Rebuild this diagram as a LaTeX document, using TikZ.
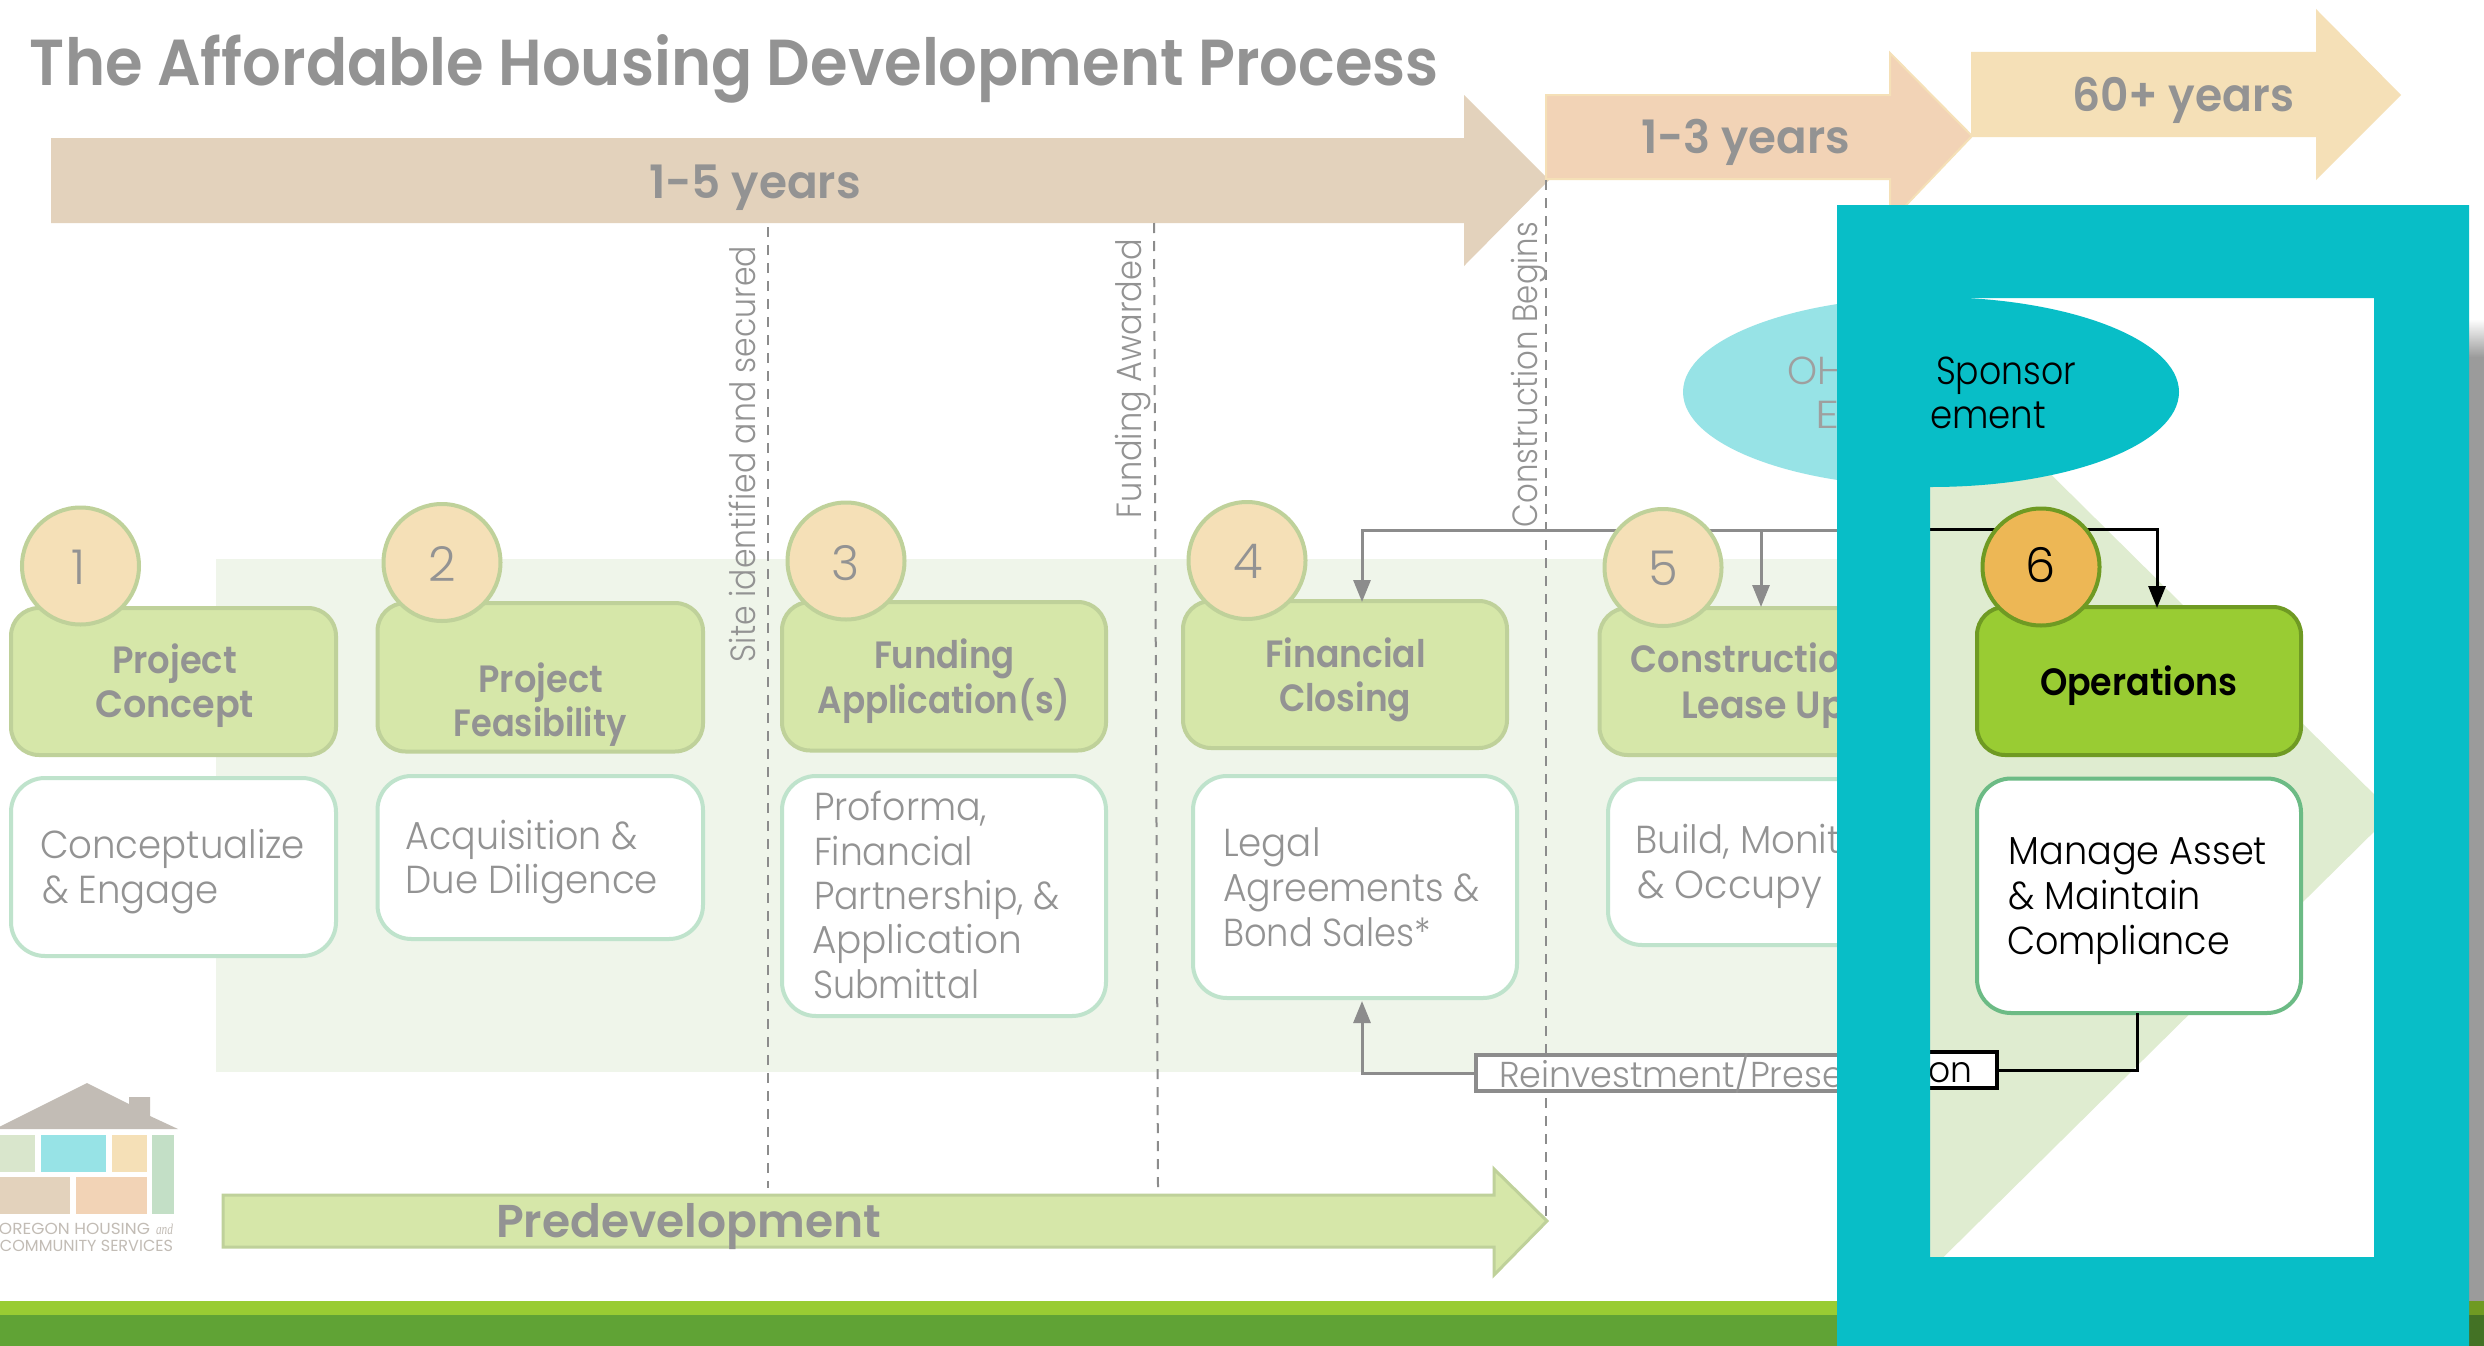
\documentclass[tikz,border=0pt]{standalone}
\usepackage{fontspec}
\usepackage{graphicx}
\usetikzlibrary{arrows.meta,shapes.geometric}
\setmainfont{Poppins}
\newfontfamily\ltf{Poppins Light}
\newfontfamily\hvf{Poppins SemiBold}
\newfontfamily\serf{Liberation Serif}
\definecolor{txtgray}{HTML}{939393}
\definecolor{boxgreen}{HTML}{D6E7A9}
\definecolor{boxedge}{HTML}{BFD19A}
\definecolor{whiteedge}{HTML}{BFE3CC}
\definecolor{peach}{HTML}{F5E0B7}
\definecolor{bgpale}{HTML}{EFF5EA}
\definecolor{chev}{HTML}{DFECD0}
\definecolor{tealc}{HTML}{08BEC7}
\definecolor{lteal}{HTML}{97E3E6}
\definecolor{connGray}{HTML}{8C8C8C}
\definecolor{opsfill}{HTML}{99CC33}
\definecolor{opsedge}{HTML}{6F9A23}
\definecolor{opsc}{HTML}{EDB755}
\definecolor{opsw}{HTML}{6CBB85}
\definecolor{logot}{HTML}{C2BCB5}
\definecolor{banddark}{HTML}{60A335}
\definecolor{arrbeige}{HTML}{E3D2BC}
\definecolor{arrorange}{HTML}{F2D3B6}
\definecolor{logogreen}{HTML}{D9E6CC}
\definecolor{logovert}{HTML}{C3DFC6}
\definecolor{shadowg}{HTML}{9B9B9B}
\newcommand\fitw[2]{\resizebox{#1 pt}{\height}{#2}}
\newcommand\rbox[6]{\pgfmathsetmacro\cxx{(#3+#5)/2}\pgfmathsetmacro\cyy{(#4+#6)/2}\pgfmathsetmacro\www{#5-#3-2}\pgfmathsetmacro\hhh{#6-#4-2}\node[#2,minimum width=\www pt,minimum height=\hhh pt] (#1) at (\cxx,\cyy) {};}
\newcommand\tline[6]{\node[#2,anchor=base west] (#1) at (#3,#4) {\fitw{#5}{#6}};}
\tikzset{
 every node/.style={inner sep=0pt,outer sep=0pt},
 gbox/.style={rectangle,rounded corners=28pt,draw=boxedge,fill=boxgreen,line width=4pt},
 wbox/.style={rectangle,rounded corners=34pt,draw=whiteedge,fill=white,line width=4pt},
 numc/.style={circle,minimum size=117pt,draw=boxedge,fill=peach,line width=4pt},
 opsbox/.style={rectangle,rounded corners=28pt,draw=opsedge,fill=opsfill,line width=4pt},
 opswhite/.style={rectangle,rounded corners=34pt,draw=opsw,fill=white,line width=4pt},
 opsnum/.style={circle,minimum size=117pt,draw=opsedge,fill=opsc,line width=4pt},
 body/.style={text=txtgray,font=\ltf\fontsize{39}{39}\selectfont},
 head/.style={text=txtgray,font=\hvf\fontsize{38}{38}\selectfont},
 bodyk/.style={text=black,font=\ltf\fontsize{39}{39}\selectfont},
 headk/.style={text=black,font=\hvf\fontsize{38}{38}\selectfont},
 big/.style={text=txtgray,font=\hvf\fontsize{46}{46}\selectfont},
 numt/.style={text=txtgray,font=\ltf\fontsize{48}{48}\selectfont,anchor=base},
 rot/.style={text=txtgray,font=\ltf\fontsize{35}{35}\selectfont,rotate=90,anchor=base west},
 dashline/.style={draw=connGray,line width=2pt,dash pattern=on 10pt off 8pt},
 gconn/.style={draw=connGray,line width=3pt},
 kconn/.style={draw=black,line width=3pt},
 tip/.style={-{Triangle[width=17pt,length=22pt]}},
 logotxt/.style={text=logot,font=\fontsize{16}{16}\selectfont},
}
\begin{document}
\begin{tikzpicture}[x=1pt,y=-1pt]
\useasboundingbox (0,0) rectangle (2484,1346);
\fill[white] (0,0) rectangle (2484,1346);
% bottom bands
\fill[opsfill] (0,1301) rectangle (2484,1315);
\fill[banddark] (0,1315) rectangle (2484,1346);
% shadow at the right edge
\fill[shadowg] (2469,357) rectangle (2484,1301);
\shade[top color=white,bottom color=shadowg] (2469,319) rectangle (2484,357);
\fill[opsedge] (2469,1301) rectangle (2484,1315);
\fill[black!30!banddark] (2469,1315) rectangle (2484,1346);
% pale panel
\fill[bgpale] (216,559) rectangle (1840,1072);
% duration arrows
\fill[arrbeige] (51,138) -- (1464,138) -- (1464,95) -- (1549,180) -- (1464,266) -- (1464,223) -- (51,223) -- cycle;
\draw[fill=arrorange,draw=peach,line width=2pt] (1546,95) -- (1890,95) -- (1890,53) -- (1972,136) -- (1890,222) -- (1890,179) -- (1546,179) -- cycle;
\fill[peach] (1971,52) -- (2316,52) -- (2316,9) -- (2401,95) -- (2316,180) -- (2316,137) -- (1971,137) -- cycle;
% dashed milestones
\draw[dashline] (768,227) -- (768,1188);
\draw[dashline] (1154,223) -- (1158,1188);
\draw[dashline] (1546,180) -- (1546,1220);
\node[rot] (msa) at (755,662) {\fitw{416}{Site identified and secured}};
\node[rot] (msb) at (1141.5,518) {\fitw{279}{Funding Awarded}};
\node[rot] (msc) at (1537,527) {\fitw{305}{Construction Begins}};
% title and durations
\tline{title}{text=txtgray,font=\hvf\fontsize{65}{65}\selectfont}{30}{85}{1409}{The Affordable Housing Development Process}
\tline{t15}{big}{649}{198}{212}{1-5 years}
\tline{t13}{big}{1641}{153}{209}{1-3 years}
\tline{t60}{big}{2072}{111}{222}{60+ years}
% predevelopment
\draw[fill=boxgreen,draw=boxedge,line width=3pt] (223,1195) -- (1494,1195) -- (1494,1169) -- (1547,1221) -- (1494,1275) -- (1494,1247) -- (223,1247) -- cycle;
\tline{tpre}{big}{496}{1237}{385}{Predevelopment}
% logo
\fill[logot] (-5,1129) -- (87,1083) -- (129,1104) -- (129,1097) -- (150,1097) -- (150,1116) -- (178,1129) -- cycle;
\fill[logogreen] (0,1135) rectangle (35,1172);
\fill[lteal] (41,1135) rectangle (106,1172);
\fill[peach] (112,1135) rectangle (147,1172);
\fill[logovert] (152,1135) rectangle (174,1214);
\fill[arrbeige] (0,1177) rectangle (70,1214);
\fill[arrorange] (76,1177) rectangle (147,1214);
\tline{lg1}{logotxt}{-1}{1234}{151}{OREGON HOUSING}
\node[logotxt,anchor=base west,font=\serf\itshape\fontsize{15}{15}\selectfont] (lg2) at (156,1234) {\fitw{17}{and}};
\tline{lg3}{logotxt}{0}{1251}{173}{COMMUNITY SERVICES}
% steps 1-5
\rbox{b1}{gbox}{10}{607}{337}{756}
\rbox{w1}{wbox}{10}{777}{337}{957}
\rbox{b2}{gbox}{376.5}{602}{704}{752.5}
\rbox{w2}{wbox}{376.5}{775}{704}{940}
\rbox{b3}{gbox}{781}{601}{1107}{751.5}
\rbox{w3}{wbox}{781}{775}{1107}{1017}
\rbox{b4}{gbox}{1182}{600}{1508}{749}
\rbox{w4}{wbox}{1192}{775}{1518}{999}
\rbox{b5}{gbox}{1598.5}{607}{1925}{756}
\rbox{w5}{wbox}{1607}{778}{1934}{946}
% connectors into the steps
\coordinate (busR) at (1845,530);
\coordinate (t4) at (1362,602);
\coordinate (bus5) at (1761,530);
\coordinate (t5) at (1761,607);
\draw[gconn,tip] (busR) -| (t4);
\draw[gconn,tip] (bus5) -- (t5);
\node[numc] (c1) at (80.5,566) {};
\node[numc] (c2) at (442,562.5) {};
\node[numc] (c3) at (846,561) {};
\node[numc] (c4) at (1247,560.5) {};
\node[numc] (c5) at (1663,567.5) {};
\node[numt] (n1) at (79,584) {1};
\node[numt] (n2) at (442,581) {2};
\node[numt] (n3) at (846,580) {3};
\node[numt] (n4) at (1248,578.5) {4};
\node[numt] (n5) at (1663,585) {5};
\tline{h1a}{head}{112}{673}{125}{Project}
\tline{h1b}{head}{95}{717.5}{159}{Concept}
\tline{h2a}{head}{478.5}{692}{124.5}{Project}
\tline{h2b}{head}{453.5}{736.5}{173}{Feasibility}
\tline{h3a}{head}{874}{668.5}{140.5}{Funding}
\tline{h3b}{head}{817.5}{713}{253}{Application(s)}
\tline{h4a}{head}{1265.5}{667}{160.5}{Financial}
\tline{h4b}{head}{1279}{711.5}{132}{Closing}
\tline{h5a}{head}{1630.6}{672}{210}{Constructio}
\tline{h5b}{head}{1681}{718.5}{165}{Lease Up}
\tline{d1a}{body}{40}{858.5}{265}{Conceptualize}
\tline{d1b}{body}{42}{903}{177}{\& Engage}
\tline{d2a}{body}{405.5}{849}{232.5}{Acquisition \&}
\tline{d2b}{body}{405.5}{893.5}{252.5}{Due Diligence}
\tline{d3a}{body}{814}{820}{173}{Proforma,}
\tline{d3b}{body}{814}{865}{159}{Financial}
\tline{d3c}{body}{814}{909}{246}{Partnership, \&}
\tline{d3d}{body}{812}{953.5}{210}{Application}
\tline{d3e}{body}{813}{998.5}{166}{Submittal}
\tline{d4a}{body}{1223}{856}{97.6}{Legal}
\tline{d4b}{body}{1223}{901}{257}{Agreements \&}
\tline{d4c}{body}{1223}{946}{208}{Bond Sales*}
\tline{d5a}{body}{1635.6}{853}{205}{Build, Monit}
\tline{d5b}{body}{1637}{898.6}{185}{\& Occupy}
% reinvestment label and connector
\rbox{reinv}{rectangle,draw=connGray,fill=white,line width=4pt}{1475}{1054}{1845}{1092}
\tline{reinvt}{body,font=\ltf\fontsize{36}{36}\selectfont}{1499}{1087}{345}{Reinvestment/Prese}
\coordinate (w4hit) at (1362,1001);
\draw[gconn,tip] (reinv.west) -| (w4hit);
% ellipse, outside the window
\node[ellipse,minimum width=496pt,minimum height=190pt,fill=lteal] (ellL) at (1931,392) {};
\tline{ohtxt}{body,text=gray!75!white}{1787}{384}{56}{OH}
\tline{etxt}{body,text=gray!75!white}{1815}{428}{24}{E}
% the window
\fill[white] (1930,298) rectangle (2374,1257);
\begin{scope}
\clip (1930,298) rectangle (2374,1257);
\fill[chev] (1900,325) -- (2393,813) -- (1900,1300) -- cycle;
\node[ellipse,minimum width=496pt,minimum height=190pt,fill=tealc] (ellR) at (1931,392) {};
\tline{sp}{bodyk}{1936}{384}{140}{Sponsor}
\tline{em}{bodyk}{1930}{428}{116}{ement}
\coordinate (busW) at (1920,529);
\coordinate (t6) at (2157,608);
\rbox{b6}{opsbox}{1976}{606}{2302}{756}
\rbox{w6}{opswhite}{1976}{777.5}{2302}{1014}
\draw[kconn,tip] (busW) -| (t6);
\node[opsnum] (c6) at (2041,567) {};
\node[numt,text=black] (n6) at (2041,582.5) {6};
\rbox{onbox}{rectangle,draw=black,fill=white,line width=4pt}{1880}{1051}{1998}{1089}
\coordinate (w6hit) at (2137,1013);
\draw[kconn] (onbox.east) -| (w6hit);
\tline{ont}{bodyk,font=\ltf\fontsize{36}{36}\selectfont}{1928}{1082}{44}{on}
\tline{opt}{headk}{2040}{695}{197.6}{Operations}
\tline{d6a}{bodyk}{2008.5}{864}{258.5}{Manage Asset}
\tline{d6b}{bodyk}{2008.5}{909}{192.5}{\& Maintain}
\tline{d6c}{bodyk}{2007}{954}{223}{Compliance}
\end{scope}
% teal frame
\fill[tealc,even odd rule] (1837,205) rectangle (2469,1346) (1930,298) rectangle (2374,1257);
\end{tikzpicture}
\end{document}
